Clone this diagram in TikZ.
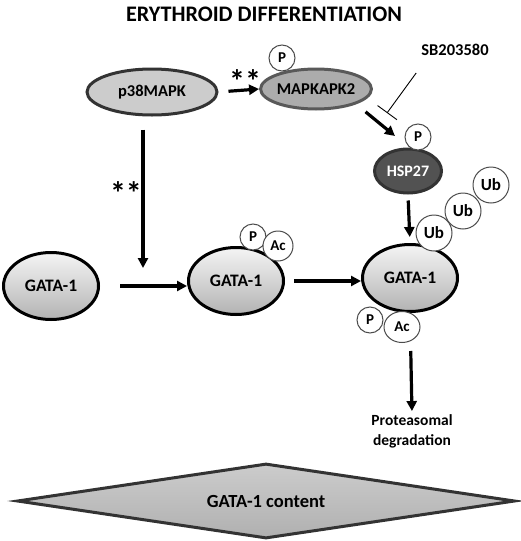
\documentclass[tikz,border=0pt]{standalone}
\usepackage{fontspec}
\setmainfont{Carlito}
\usepackage{tikz}
\usetikzlibrary{shapes.geometric,arrows.meta}

\begin{document}
\begin{tikzpicture}[x=1pt,y=-1pt,
  every node/.style={font=\bfseries,inner sep=0pt},
  prot/.style={draw,shape=ellipse,line width=3pt},
  gata/.style={prot,draw=black,top color=gray!8,bottom color=gray!60,minimum width=95pt,minimum height=67pt,font=\bfseries\fontsize{17.5}{17}\selectfont},
  tag/.style={draw=black!70,fill=white,shape=circle,line width=1pt,minimum size=26pt,font=\bfseries\fontsize{15}{15}\selectfont},
  arr/.style={line width=3.2pt,-{Triangle[length=10pt,width=10pt]}},
  inh/.style={line width=0.9pt,-{Bar[width=24pt]}},
  star/.style={font=\bfseries\fontsize{32}{32}\selectfont}]

  \useasboundingbox (0,0) rectangle (520,541);

  % title
  \node (title) at (264,14) {\fontsize{22.2}{22}\selectfont ERYTHROID DIFFERENTIATION};

  % kinases
  \node[prot,draw=black!80,fill=gray!40,minimum width=130pt,minimum height=46pt,font=\bfseries\fontsize{16.5}{16}\selectfont] (p38) at (152,92) {p38MAPK};
  \node[prot,draw=black!65,fill=gray!65,minimum width=104pt,minimum height=40pt,font=\bfseries\fontsize{16.5}{16}\selectfont] (mk2) at (316,89) {MAPKAPK2};
  \node[tag] (mk2p) at (282,58) {P};
  \node[prot,draw=black!80,fill=black!68,text=white,minimum width=67pt,minimum height=44pt,font=\bfseries\fontsize{16}{16}\selectfont] (hsp) at (408,171) {HSP27};
  \node[tag] (hspp) at (418,137) {P};
  \node[font=\bfseries\fontsize{16.5}{16}\selectfont] (sb) at (455,50) {SB203580};

  % GATA-1 forms
  \node[gata] (g0) at (51,286) {GATA-1};
  \node[gata] (g1) at (236,281) {GATA-1};
  \node[tag] (g1p) at (253,237) {P};
  \node[tag,minimum size=30pt] (g1ac) at (278,246) {Ac};
  \node[gata] (g2) at (410,278) {GATA-1};
  \node[tag] (g2p) at (370,320) {P};
  \node[tag,shape=ellipse,minimum width=36pt,minimum height=31pt] (g2ac) at (402,327) {Ac};
  \node[tag,minimum size=36pt,font=\bfseries\fontsize{17}{17}\selectfont] (ub1) at (434,233) {Ub};
  \node[tag,minimum size=36pt,font=\bfseries\fontsize{17}{17}\selectfont] (ub2) at (463,211) {Ub};
  \node[tag,minimum size=36pt,font=\bfseries\fontsize{17}{17}\selectfont] (ub3) at (491,185) {Ub};

  \node[align=center,font=\bfseries\fontsize{15.5}{20}\selectfont] (deg) at (412,431) {Proteasomal\\degradation};

  % content
  \node[draw=black!80,shape=diamond,shape aspect=6.64,line width=3pt,top color=gray!40,bottom color=gray!62,minimum width=498pt,minimum height=75pt,font=\bfseries\fontsize{18.5}{18}\selectfont] (cont) at (266,501) {GATA-1 content};

  % stars
  \node[star] (s1) at (245,81) {**};
  \node[star] (s2) at (126,193) {**};

  \coordinate (join) at (143,268);
  \coordinate (hspin) at (395,136);
  \coordinate (blk) at (387,113);

  % connectors
  \draw[arr,shorten <=10pt] (p38.east) -- (mk2.west);
  \draw[arr,shorten <=13pt] (p38.south -| join) -- (join);
  \draw[arr,shorten <=20pt] (g0.east) -- (g0.east -| g1.west);
  \draw[arr,shorten <=9pt] (g1.east) -- (g1.east -| g2.west);
  \draw[arr,shorten <=12pt] (mk2.south east) -- (hspin);
  \draw[inh] ([shift={(-5,17)}]sb.south west) -- (blk);
  \draw[arr,shorten <=6pt,shorten >=6pt] (hsp.south) -- (g2.north);
  \draw[arr,shorten <=38pt,shorten >=3pt] (g2.south) -- (deg.north);

\end{tikzpicture}
\end{document}
